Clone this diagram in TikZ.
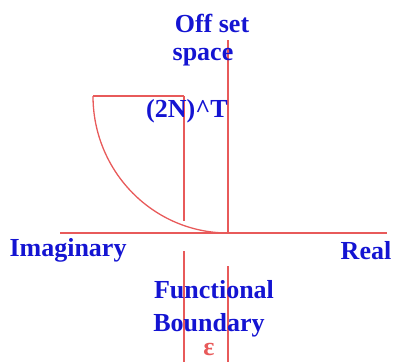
\documentclass[tikz,border=0pt]{standalone}
\usepackage{fontspec}
\setmainfont{Liberation Serif}
\definecolor{lred}{RGB}{232,90,90}
\definecolor{tblue}{RGB}{20,20,210}
\begin{document}
\begin{tikzpicture}[x=1pt,y=-1pt,
  redline/.style={draw=lred,line width=1.3pt},
  lbl/.style={text=tblue,font=\bfseries\fontsize{26}{29}\selectfont,inner sep=0pt,anchor=center}]
\useasboundingbox (0,0) rectangle (398,362);
% coordinates
\coordinate (vtop) at (228,40);
\coordinate (origin) at (228,233);
\coordinate (vlow1) at (228,266);
\coordinate (vbot1) at (228,362);
\coordinate (etop) at (184,96);
\coordinate (emid) at (184,221);
\coordinate (elow) at (184,251);
\coordinate (ebot) at (184,362);
\coordinate (axl) at (60,233);
\coordinate (axr) at (387,233);
\coordinate (arcstart) at (93,96);
% lines
\draw[redline] (vtop) -- (origin);
\draw[redline] (vlow1) -- (vbot1);
\draw[redline] (etop) -- (emid);
\draw[redline] (elow) -- (ebot);
\draw[redline] (axl) -- (axr);
\draw[redline] (arcstart) -- (etop);
\draw[redline] (arcstart) arc[start angle=180,end angle=270,x radius=135,y radius=-137];
% labels
\node[lbl] (off) at (212,23) {Off set};
\node[lbl] (space) at (203,57) {space};
\node[lbl] (tn) at (187,111) {(2N)\^{}T};
\node[lbl] (imag) at (68,250) {Imaginary};
\node[lbl] (real) at (366,251) {Real};
\node[lbl] (func) at (214,290) {Functional};
\node[lbl] (bound) at (209,325) {Boundary};
\node[lbl,text=lred] (eps) at (209,349) {ε};
\end{tikzpicture}
\end{document}
